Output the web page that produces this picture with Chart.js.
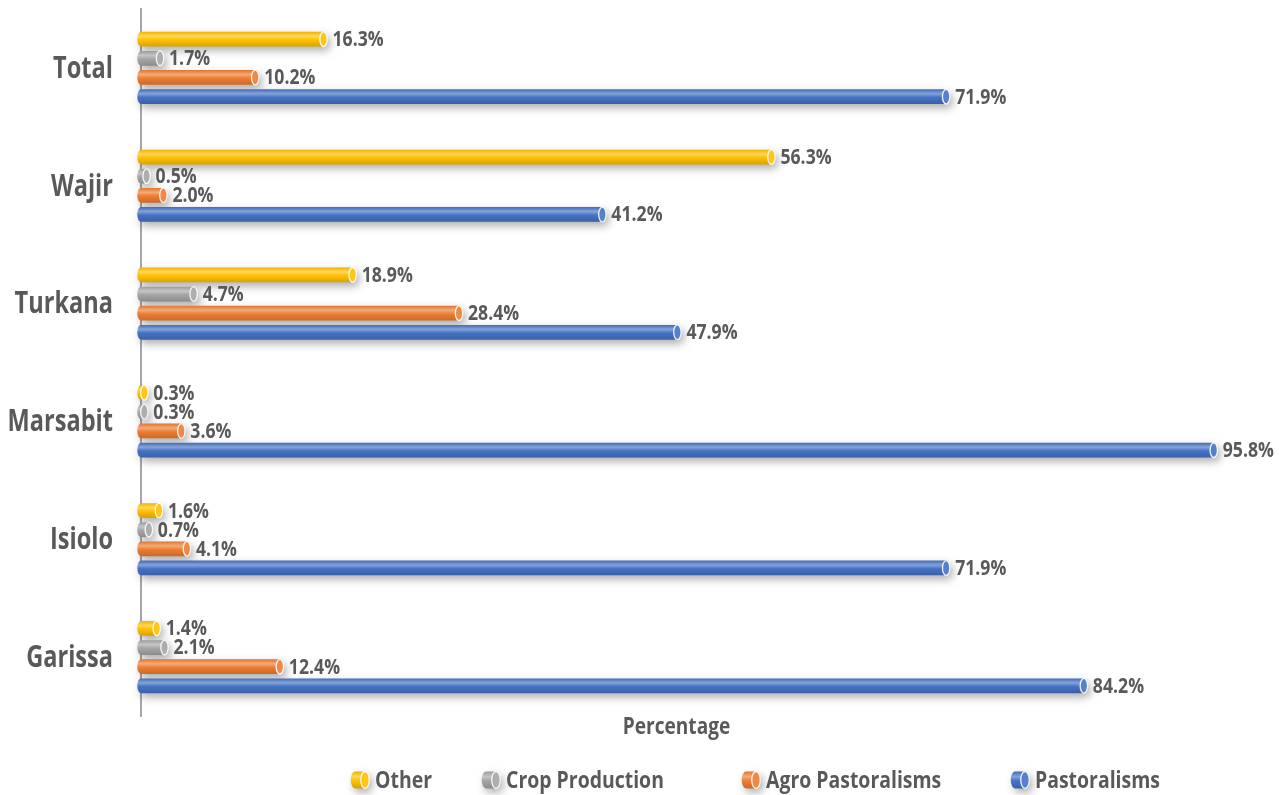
<!DOCTYPE html>
<html>
<head>
<meta charset="utf-8">
<title>Livelihood zones by county</title>
<script src="https://cdn.jsdelivr.net/npm/chart.js@4.4.1/dist/chart.umd.min.js"></script>
<style>
  html, body { margin: 0; padding: 0; background: #fff; }
  #wrap { position: relative; width: 1279px; height: 795px; }
</style>
</head>
<body>
<div id="wrap"><canvas id="zonesChart"></canvas></div>
<script>
/* --- data --- */
const counties = ["Total", "Wajir", "Turkana", "Marsabit", "Isiolo", "Garissa"];
const otherPct = [16.3, 56.3, 18.9, 0.3, 1.6, 1.4];
const cropPct = [1.7, 0.5, 4.7, 0.3, 0.7, 2.1];
const agroPct = [10.2, 2.0, 28.4, 3.6, 4.1, 12.4];
const pastoralPct = [71.9, 41.2, 47.9, 95.8, 71.9, 84.2];

const seriesNames = ["Other", "Crop Production", "Agro Pastoralisms", "Pastoralisms"];
const seriesColors = ["#FFC000", "#A5A5A5", "#ED7D31", "#4472C4"];

const FONT = "'Open Sans', 'Noto Sans', sans-serif";
const TEXT = "#595959";

/* --- helpers --- */
function mix(hex, target, amt) {
  const n = parseInt(hex.replace('#', ''), 16);
  let r = (n >> 16) & 255, g = (n >> 8) & 255, b = n & 255;
  r = Math.round(r + (target - r) * amt);
  g = Math.round(g + (target - g) * amt);
  b = Math.round(b + (target - b) * amt);
  return `rgb(${r}, ${g}, ${b})`;
}

// text narrowed horizontally by sx
function squeezedText(ctx, text, x, y, align, font, sx) {
  ctx.save();
  ctx.font = font;
  ctx.fillStyle = TEXT;
  ctx.textAlign = align;
  ctx.textBaseline = 'middle';
  ctx.translate(x, y);
  ctx.scale(sx, 1);
  ctx.fillText(text, 0, 0);
  ctx.restore();
}

/* one horizontal cylinder from x0 to x1, centred on y */
function drawCylinder(ctx, x0, x1, y, h, color) {
  const rx = Math.max(2, h * 0.25);
  const ry = h / 2;
  const top = y - ry;

  const body = new Path2D();
  body.moveTo(x0, top);
  body.lineTo(x1, top);
  body.ellipse(x1, y, rx, ry, 0, -Math.PI / 2, Math.PI / 2);
  body.lineTo(x0, top + h);
  body.ellipse(x0, y, rx, ry, 0, Math.PI / 2, Math.PI * 1.5);
  body.closePath();

  ctx.save();
  ctx.shadowColor = "rgba(0,0,0,0.32)";
  ctx.shadowBlur = 9;
  ctx.shadowOffsetX = 3;
  ctx.shadowOffsetY = 4;
  const grad = ctx.createLinearGradient(0, top, 0, top + h);
  grad.addColorStop(0, mix(color, 0, 0.06));
  grad.addColorStop(0.3, mix(color, 255, 0.35));
  grad.addColorStop(0.55, color);
  grad.addColorStop(1, mix(color, 0, 0.15));
  ctx.fillStyle = grad;
  ctx.fill(body);
  ctx.restore();

  // end cap
  ctx.save();
  ctx.beginPath();
  ctx.ellipse(x1, y, rx, ry, 0, 0, Math.PI * 2);
  ctx.fillStyle = mix(color, 255, 0.1);
  ctx.fill();
  ctx.lineWidth = 1.3;
  ctx.strokeStyle = "rgba(255,255,255,0.9)";
  ctx.stroke();
  ctx.restore();
}

/* bars as cylinders, value labels, county names, axis title */
const cylinderBars = {
  id: 'cylinderBars',
  afterDatasetsDraw(chart) {
    const ctx = chart.ctx;
    const area = chart.chartArea;
    chart.data.datasets.forEach((ds, di) => {
      const meta = chart.getDatasetMeta(di);
      if (meta.hidden) return;
      meta.data.forEach((el, i) => {
        const p = el.getProps(['x', 'y', 'base', 'height'], true);
        const x0 = Math.min(p.base, p.x), x1 = Math.max(p.base, p.x);
        drawCylinder(ctx, x0, x1, p.y, p.height, ds.barColor);
        squeezedText(ctx, ds.data[i].toFixed(1) + '%', x1 + 9, p.y + 1, 'left', `bold 21px ${FONT}`, 0.84);
      });
    });

    const yScale = chart.scales.y;
    chart.data.labels.forEach((lbl, i) => {
      squeezedText(ctx, lbl, area.left - 28, yScale.getPixelForValue(i) + 1, 'right', `bold 31px ${FONT}`, 0.76);
    });

    squeezedText(ctx, 'Percentage', (area.left + area.right) / 2 - 2, area.bottom + 11, 'center', `bold 23px ${FONT}`, 0.83);
  }
};

/* legend row along the bottom */
const cylinderLegend = {
  id: 'cylinderLegend',
  afterDraw(chart, args, opts) {
    const ctx = chart.ctx;
    chart.data.datasets.forEach((ds, i) => {
      const x = opts.positions[i];
      drawCylinder(ctx, x + 2, x + 12, opts.y, 17, ds.barColor);
      squeezedText(ctx, ds.label, x + 22, opts.y + 1, 'left', `bold 24px ${FONT}`, 0.81);
    });
  }
};

const seriesData = [otherPct, cropPct, agroPct, pastoralPct];

new Chart(document.getElementById('zonesChart'), {
  type: 'bar',
  data: {
    labels: counties,
    datasets: seriesNames.map((name, i) => ({
      label: name,
      data: seriesData[i],
      barColor: seriesColors[i],
      backgroundColor: 'rgba(0,0,0,0)',
      borderWidth: 0,
      categoryPercentage: 0.65,
      barPercentage: 0.77
    }))
  },
  options: {
    indexAxis: 'y',
    responsive: true,
    maintainAspectRatio: false,
    animation: false,
    layout: { padding: { left: 8, right: 63, top: 9, bottom: 79 } },
    scales: {
      x: {
        min: 0,
        max: 96,
        grid: { display: false },
        border: { display: false },
        ticks: { display: false },
        afterFit(scale) { scale.height = 0; }
      },
      y: {
        grid: { display: false },
        border: { display: true, color: '#A6A6A6', width: 2 },
        ticks: { display: false },
        afterFit(scale) { scale.width = 133; }
      }
    },
    plugins: {
      legend: { display: false },
      tooltip: { enabled: false },
      cylinderLegend: { positions: [353, 484, 744, 1013], y: 780 }
    }
  },
  plugins: [cylinderBars, cylinderLegend]
});
</script>
</body>
</html>
